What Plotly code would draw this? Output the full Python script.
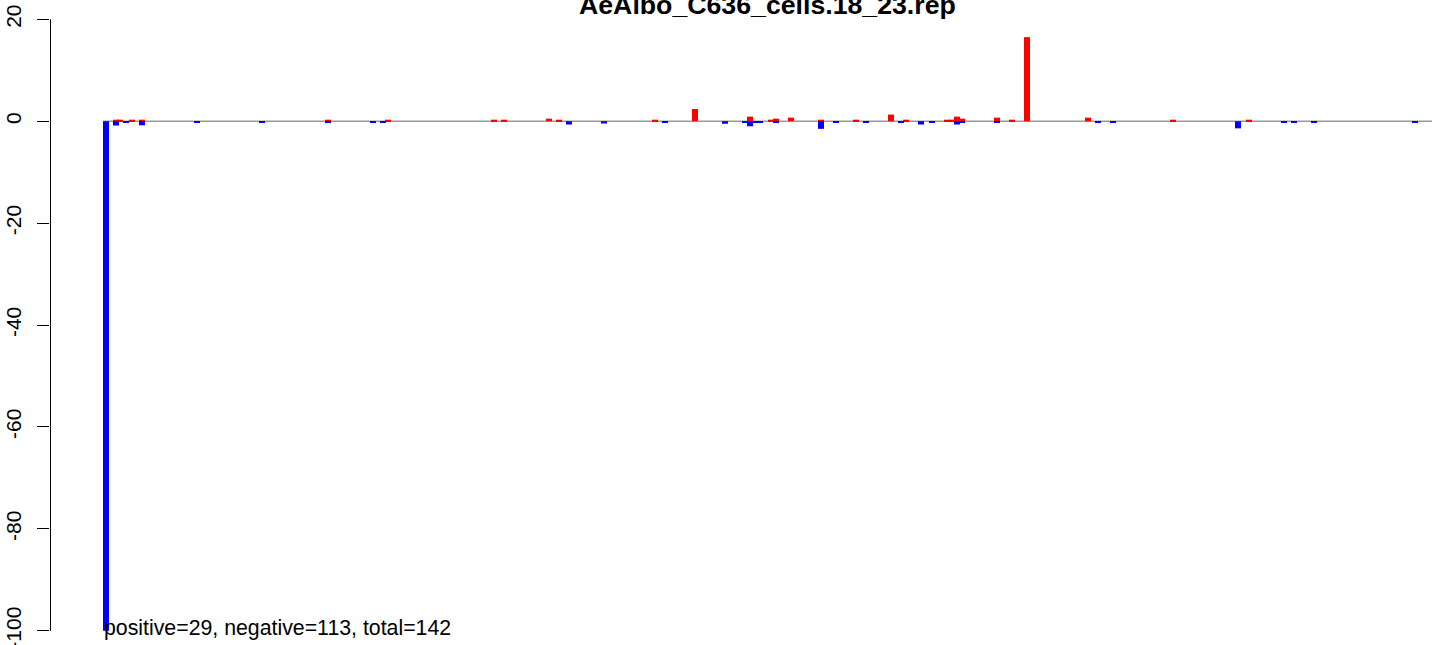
import plotly.graph_objects as go

# ---- data (positions along the sequence, scores) ----
TITLE = "AeAlbo_C636_cells.18_23.rep"
SUMMARY = "positive=29, negative=113, total=142"

pos_x = [116, 120, 132, 142, 328, 388, 494, 504, 549, 559,
         655, 695, 750, 771, 776, 791, 821, 856, 891, 906,
         947, 952, 957, 962, 997, 1012, 1027, 1088, 1173, 1249]
pos_y = [0.3, 0.3, 0.3, 0.3, 0.3, 0.3, 0.3, 0.3, 0.5, 0.3,
         0.3, 2.4, 0.9, 0.3, 0.5, 0.7, 0.3, 0.3, 1.3, 0.3,
         0.3, 0.3, 0.9, 0.5, 0.7, 0.3, 16.5, 0.7, 0.3, 0.3]

neg_x = [106, 116, 126, 142, 197, 262, 328, 373, 383, 569,
         604, 665, 725, 745, 750, 756, 760, 776, 821, 836,
         866, 901, 921, 932, 957, 962, 997, 1098, 1113, 1238,
         1284, 1294, 1314, 1415]
neg_y = [-100, -0.85, -0.3, -0.8, -0.3, -0.3, -0.3, -0.3, -0.3, -0.65,
         -0.45, -0.3, -0.5, -0.3, -1.0, -0.3, -0.3, -0.3, -1.5, -0.3,
         -0.3, -0.3, -0.65, -0.3, -0.65, -0.3, -0.3, -0.3, -0.3, -1.4,
         -0.3, -0.3, -0.3, -0.3]

X_MIN, X_MAX = 103, 1432        # extent of the sequence (plot region in original)
Y_TICKS = [20, 0, -20, -40, -60, -80, -100]
BAR_W = 6

FONT = "Liberation Sans, Arial, Helvetica, sans-serif"

fig = go.Figure()
fig.add_trace(go.Bar(x=pos_x, y=pos_y, width=BAR_W, marker=dict(color="#ff0000", line=dict(width=0)),
                     name="positive", hoverinfo="x+y"))
fig.add_trace(go.Bar(x=neg_x, y=neg_y, width=BAR_W, marker=dict(color="#0000ff", line=dict(width=0)),
                     name="negative", hoverinfo="x+y"))

# zero line (abline h=0)
fig.add_shape(type="line", xref="x", yref="y", x0=X_MIN, x1=X_MAX, y0=0, y1=0,
              line=dict(color="#999999", width=1.5), layer="below")
# y axis line only spanning the tick range (R style)
fig.add_shape(type="line", xref="x", yref="y", x0=50.5, x1=50.5, y0=Y_TICKS[-1], y1=Y_TICKS[0],
              line=dict(color="black", width=1))

fig.add_annotation(text="<b>" + TITLE + "</b>", xref="x", yref="y",
                   x=(X_MIN + X_MAX) / 2, y=22.86, xanchor="center", yanchor="middle",
                   showarrow=False, font=dict(family=FONT, size=26.7, color="black"))
fig.add_annotation(text=SUMMARY, xref="x", yref="y", x=X_MIN - 1, y=-99.4,
                   xanchor="left", yanchor="middle", showarrow=False,
                   font=dict(family=FONT, size=21.3, color="black"))

fig.update_layout(
    width=1444, height=645,
    paper_bgcolor="white", plot_bgcolor="white",
    margin=dict(l=50, r=4, t=4, b=4),
    barmode="overlay",
    showlegend=False,
    font=dict(family=FONT, size=21, color="black"),
    xaxis=dict(range=[50, 1440], visible=False, fixedrange=True),
    yaxis=dict(range=[-102, 23], tickvals=Y_TICKS, ticktext=[str(v) for v in Y_TICKS],
               ticks="outside", ticklen=12, tickcolor="black", tickwidth=1,
               tickangle=-90, showgrid=False, zeroline=False, showline=False,
               automargin=False, ticklabelstandoff=8, ticklabeloverflow="allow",
               tickfont=dict(family=FONT, size=21, color="black")),
)

fig.write_html("out.html", config={"displayModeBar": False},
               post_script="document.body.style.margin='0';document.body.style.overflow='hidden';")
